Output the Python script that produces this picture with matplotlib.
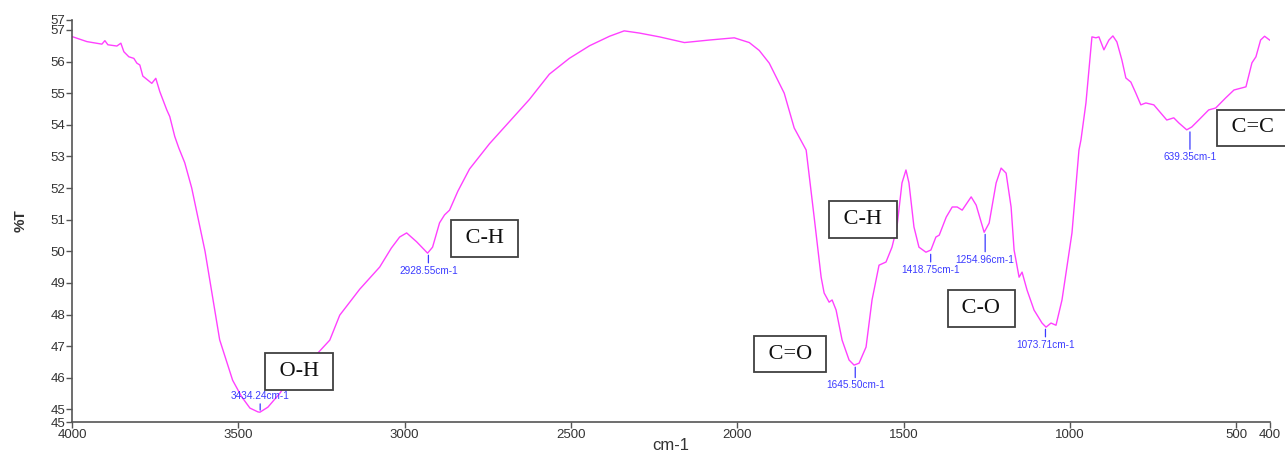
import matplotlib
matplotlib.use("Agg")
from matplotlib import pyplot as plt

# FTIR spectrum
wavenumber = [4000, 3955, 3910, 3901, 3892, 3865, 3853, 3844, 3829, 3814, 3805, 3796, 3787,
              3760, 3748, 3736, 3715, 3706, 3691, 3679, 3661, 3640, 3600, 3556, 3517, 3490,
              3465, 3441, 3435, 3411, 3375, 3354, 3261, 3225, 3195, 3135, 3075, 3040, 3015,
              2994, 2964, 2931, 2916, 2895, 2880, 2865, 2840, 2805, 2775, 2745, 2685, 2625,
              2565, 2505, 2444, 2384, 2340, 2294, 2234, 2159, 2084, 2009, 1964, 1934, 1904,
              1859, 1829, 1793, 1769, 1748, 1739, 1724, 1715, 1703, 1685, 1664, 1649, 1634,
              1613, 1595, 1574, 1553, 1535, 1520, 1505, 1493, 1484, 1469, 1454, 1433, 1418,
              1403, 1393, 1372, 1354, 1339, 1324, 1297, 1282, 1258, 1243, 1222, 1207, 1192,
              1177, 1168, 1153, 1144, 1129, 1108, 1084, 1072, 1057, 1042, 1024, 994, 973,
              967, 952, 934, 922, 913, 898, 883, 871, 859, 844, 832, 817, 802, 787, 772, 748,
              727, 709, 688, 673, 649, 634, 613, 583, 562, 532, 507, 471, 453, 441, 427, 415,
              400]
transmittance = [56.79, 56.63, 56.55, 56.66, 56.53, 56.49, 56.58, 56.31, 56.15, 56.1, 55.95,
                 55.89, 55.54, 55.31, 55.47, 55.05, 54.47, 54.26, 53.63, 53.27, 52.8, 52.0,
                 50.0, 47.2, 45.92, 45.4, 45.04, 44.92, 44.91, 45.07, 45.51, 45.83, 46.78,
                 47.19, 47.98, 48.8, 49.5, 50.1, 50.45, 50.58, 50.3, 49.94, 50.13, 50.9, 51.15,
                 51.3, 51.9, 52.6, 53.0, 53.4, 54.1, 54.8, 55.6, 56.1, 56.5, 56.8, 56.97,
                 56.9, 56.78, 56.6, 56.68, 56.75, 56.6, 56.35, 55.95, 55.0, 53.9, 53.2, 51.08,
                 49.18, 48.68, 48.39, 48.46, 48.14, 47.19, 46.56, 46.4, 46.46, 46.97, 48.46,
                 49.56, 49.66, 50.13, 50.77, 52.16, 52.57, 52.16, 50.77, 50.13, 49.97, 50.04,
                 50.45, 50.51, 51.08, 51.4, 51.4, 51.3, 51.72, 51.46, 50.6, 50.89, 52.16,
                 52.63, 52.47, 51.4, 50.04, 49.18, 49.34, 48.77, 48.14, 47.73, 47.6, 47.73,
                 47.66, 48.46, 50.58, 53.2, 53.52, 54.69, 56.78, 56.75, 56.78, 56.37, 56.68,
                 56.81, 56.62, 56.05, 55.48, 55.35, 55.0, 54.63, 54.69, 54.63, 54.37, 54.15,
                 54.22, 54.06, 53.84, 53.93, 54.15, 54.47, 54.53, 54.85, 55.1, 55.2, 55.96,
                 56.15, 56.68, 56.8, 56.68]

# labelled minima: wavenumber, %T at the dip, offset of the label (pt, + above)
peak_wn = [3434.24, 2928.55, 1645.50, 1418.75, 1254.96, 1073.71, 639.35]
peak_T = [44.91, 49.94, 46.4, 49.97, 50.6, 47.6, 53.84]
peak_off = [6, -7, -9, -7, -14, -7, -14]

# functional group boxes: text, wavenumber, %T (centre)
group_text = ["O-H", "C-H", "C-H", "C=O", "C-O", "C=C"]
group_wn = [3318, 2760, 1622, 1841, 1267, 450]
group_T = [46.2, 50.4, 51.0, 46.75, 48.2, 53.9]

fig = plt.figure(figsize=(12.85, 4.55), dpi=100)
ax = fig.add_axes([0.056, 0.0725, 0.932, 0.884])

ax.plot(wavenumber, transmittance, color="#ff40ff", linewidth=1.0)

ax.set_xlim(4000, 400)
ax.set_ylim(44.6, 57.32)
ax.set_xticks([4000, 3500, 3000, 2500, 2000, 1500, 1000, 500, 400])
yt = [44.6, 45, 46, 47, 48, 49, 50, 51, 52, 53, 54, 55, 56, 57, 57.32]
ax.set_yticks(yt)
ax.set_yticklabels([str(int(round(v))) for v in yt])

for side in ["top", "right"]:
    ax.spines[side].set_visible(False)
for side in ["left", "bottom"]:
    ax.spines[side].set_color("#555555")
    ax.spines[side].set_linewidth(1.2)
ax.tick_params(colors="#555555", labelcolor="#333333", labelsize=9.5, length=4, width=1,
               pad=1)
for lab in ax.get_xticklabels() + ax.get_yticklabels():
    lab.set_fontfamily("Liberation Sans")

ax.set_ylabel("%T", fontsize=11, fontweight="bold", color="#333333",
              fontfamily="Liberation Sans", labelpad=16)
ax.set_xlabel("cm-1", fontsize=12, color="#333333", fontfamily="Liberation Sans",
              labelpad=-2)

blue = "#3b3bff"
for wn, t, off in zip(peak_wn, peak_T, peak_off):
    ax.annotate("%.2fcm-1" % wn, xy=(wn, t), xytext=(0, off + (2 if off > 0 else -2)),
                textcoords="offset points", ha="center",
                va="bottom" if off > 0 else "top",
                fontsize=7.2, color=blue, fontfamily="Liberation Sans",
                arrowprops=dict(arrowstyle="-", color=blue, lw=0.9,
                                shrinkA=0, shrinkB=1.5))

for txt, wn, t in zip(group_text, group_wn, group_T):
    ax.text(wn, t, " " + txt + " ", ha="center", va="center", fontsize=16,
            fontfamily="Liberation Serif", color="#111111", clip_on=False,
            bbox=dict(boxstyle="square,pad=0.4", facecolor="white",
                      edgecolor="#404040", linewidth=1.3))

fig.savefig("out.png", dpi=100)
